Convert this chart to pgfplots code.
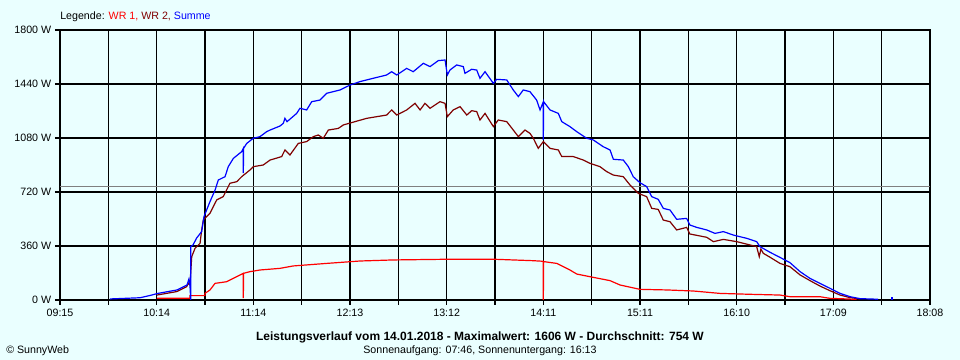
\documentclass[border=0pt]{standalone}
\usepackage{fontspec}
\setmainfont{Liberation Sans}
\usepackage{pgfplots}
\pgfplotsset{compat=1.18}
\definecolor{bg}{RGB}{234,255,255}
\definecolor{wra}{RGB}{255,0,0}
\definecolor{wrb}{RGB}{128,0,0}
\definecolor{sumc}{RGB}{0,0,255}
\definecolor{avg}{RGB}{128,128,128}
\begin{document}
\fontsize{8}{9.6}\selectfont
\begin{tikzpicture}
\path[use as bounding box, fill=bg] (0,0) rectangle (720pt,270pt);
\begin{axis}[
  at={(45pt,45pt)}, anchor=south west,
  scale only axis, width=652.5pt, height=202.5pt,
  xmin=0, xmax=533, ymin=0, ymax=1800,
  /pgf/number format/assume math mode=true,
  ticklabel style={font=\fontsize{8}{9.6}\selectfont},
  xtick={0,59.2222,118.4444,177.6667,236.8889,296.1111,355.3333,414.5556,473.7778,533},
  xticklabels={09:15,10:14,11:14,12:13,13:12,14:11,15:11,16:10,17:09,18:08},
  minor xtick={29.6111,88.8333,148.0556,207.2778,266.5,325.7222,384.9444,444.1667,503.3889},
  ytick={0,360,720,1080,1440,1800},
  yticklabels={0 W,360 W,720 W,1080 W,1440 W,1800 W},
  grid=both,
  grid style={black, line width=0.95pt},
  major grid style={black, line width=0.95pt},
  minor grid style={black, line width=0.95pt},
  tick style={black, line width=0.95pt},
  major tick length=3.75pt, minor tick length=3.75pt,
  tick align=outside, xtick pos=bottom, ytick pos=left,
  axis line style={black, line width=0.95pt},
  every axis plot/.append style={line width=0.9pt, mark=none},
]
\addplot[avg, line width=0.8pt] coordinates {(0,754) (533,754)};
% WR 1
\addplot[wra] coordinates {
(59.4,11) (79.6,11) (79.6,29) (88.8,29) (88.8,44) (91.9,67) (95.0,111) (102.1,122)
(108.3,156) (112.3,178) (112.3,13) (112.5,178) (116.4,189) (122.5,200) (134.8,211)
(142.9,227) (163.4,244) (183.8,260) (204.2,267) (232.8,271) (267.5,271) (290.0,262)
(296.1,258) (296.1,0) (296.3,256) (304.3,244) (312.4,200) (316.6,173) (326.7,151)
(337.0,129) (343.1,100) (355.3,71) (371.7,67) (388.0,60) (404.3,44) (422.7,38)
(441.1,33) (447.2,22) (465.6,22) (471.7,11) (482.0,7) (488.1,4)
};
% WR 2
\addplot[wrb] coordinates {
(59.4,33) (71.5,56) (77.6,89) (78.7,111) (79.6,100) (80.7,289) (82.7,344) (85.8,378)
(86.8,467) (87.8,533) (91.9,578) (96.0,667) (100.0,689) (104.1,778) (108.3,789)
(111.3,822) (116.4,867) (118.4,889) (124.5,900) (128.7,933) (135.8,956) (137.8,1000)
(140.9,967) (146.0,1044) (151.1,1056) (155.2,1089) (158.3,1100) (161.3,1078)
(164.4,1133) (170.5,1144) (173.6,1167) (180.7,1189) (187.9,1211) (200.1,1233)
(203.2,1267) (206.3,1233) (212.4,1267) (217.5,1311) (220.6,1267) (223.6,1311)
(226.7,1278) (232.8,1322) (235.9,1311) (237.3,1222) (240.9,1267) (245.1,1289)
(249.2,1233) (252.2,1262) (255.3,1256) (257.3,1200) (260.4,1244) (265.5,1156)
(268.5,1200) (273.7,1189) (277.7,1133) (280.8,1089) (284.9,1133) (287.9,1111)
(290.0,1078) (293.0,1011) (296.1,1056) (300.2,1011) (305.3,1000) (307.4,956)
(314.5,956) (320.6,933) (324.7,911) (330.8,889) (334.9,856) (339.0,833) (345.1,822)
(349.2,767) (354.3,711) (359.4,689) (362.5,611) (366.5,604) (369.6,533) (373.7,522)
(377.8,467) (383.9,484) (385.9,440) (392.0,427) (396.2,418) (400.3,389) (406.4,404)
(414.6,389) (426.8,356) (428.4,289) (429.4,340) (430.9,311) (435.0,285) (441.1,244)
(447.2,222) (453.4,167) (459.5,129) (465.6,93) (471.7,62) (477.9,33) (484.0,16)
(490.1,7)
};
% Summe
\addplot[sumc] coordinates {
(30.6,7) (49.0,15) (55.1,30) (60.0,44) (71.7,67) (77.8,100) (79.0,140) (79.6,100)
(80.1,0) (80.1,355) (81.5,367) (83.7,413) (86.8,456) (88.2,556) (91.9,656) (95.0,733)
(97.0,800) (101.1,822) (103.1,889) (106.2,944) (111.3,989) (112.3,1011) (112.3,846)
(112.5,1011) (114.4,1044) (118.4,1078) (122.5,1089) (126.6,1122) (128.7,1133)
(134.8,1160) (136.8,1178) (137.8,1211) (139.1,1189) (145.0,1244) (147.0,1278)
(151.1,1267) (154.2,1322) (159.3,1333) (163.4,1378) (171.5,1400) (177.7,1433)
(183.8,1456) (191.9,1478) (200.1,1500) (203.2,1522) (206.3,1500) (212.4,1544)
(216.4,1522) (222.6,1578) (226.7,1556) (231.8,1596) (235.9,1600) (237.3,1500)
(238.9,1533) (243.0,1567) (247.1,1556) (248.1,1511) (252.2,1538) (255.3,1533)
(257.3,1478) (260.4,1522) (265.5,1444) (267.5,1471) (273.7,1467) (277.7,1400)
(280.8,1356) (283.8,1400) (287.9,1389) (292.0,1333) (294.1,1267) (296.1,1322)
(296.1,1067) (296.3,1322) (300.2,1267) (305.3,1244) (307.4,1189) (312.4,1156)
(316.6,1122) (322.7,1078) (326.7,1067) (332.8,1022) (337.0,1000) (339.0,938)
(345.1,933) (348.2,889) (351.2,822) (355.3,782) (359.4,756) (362.5,689) (366.5,671)
(369.6,611) (373.7,600) (377.8,538) (383.9,544) (385.9,500) (390.1,484) (396.2,467)
(401.3,444) (406.4,456) (412.5,433) (420.7,411) (426.8,389) (428.8,356) (435.0,318)
(441.1,284) (447.2,249) (453.4,189) (459.5,144) (465.6,111) (471.7,78) (477.9,44)
(484.0,22) (490.1,9) (501.2,5)
};
\addplot[sumc, line width=1.5pt] coordinates {(509.5,0) (509.5,20)};
\end{axis}
\node[anchor=base west, inner sep=0pt] at (45pt,255pt)
  {Legende: \textcolor{wra}{WR 1,} \textcolor{wrb}{WR 2,} \textcolor{sumc}{Summe}};
\node[anchor=base, inner sep=0pt, font=\fontsize{9}{10.8}\selectfont\bfseries] at (360pt,14.25pt)
  {Leistungsverlauf vom 14.01.2018 - Maximalwert: 1606 W - Durchschnitt: 754 W};
\node[anchor=base, inner sep=0pt] at (360pt,4.5pt)
  {Sonnenaufgang: 07:46, Sonnenuntergang: 16:13};
\node[anchor=base west, inner sep=0pt] at (4.5pt,4.5pt) {\textcopyright\ SunnyWeb};
\end{tikzpicture}
\end{document}
